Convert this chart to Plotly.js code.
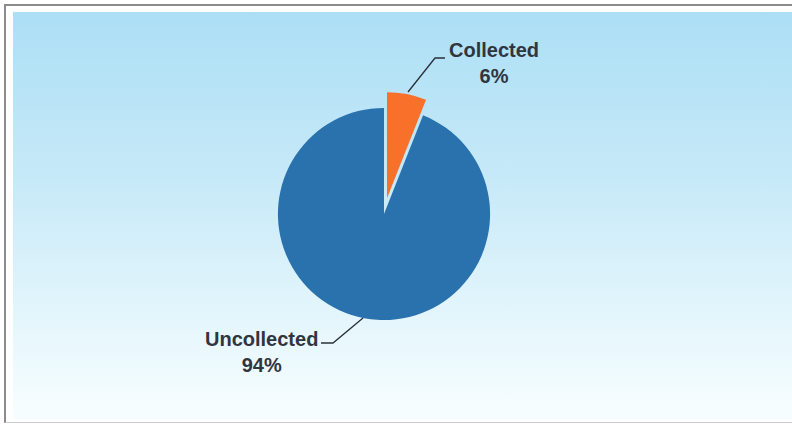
<!DOCTYPE html>
<html>
<head>
<meta charset="utf-8">
<script src="https://cdn.plot.ly/plotly-3.0.1.min.js"></script>
<style>
  html, body { margin: 0; padding: 0; background: #ffffff; width: 792px; height: 424px; overflow: hidden; }
  #frame { position: absolute; left: 4px; top: 4px; width: 800px; height: 416px;
           border-left: 2px solid #8c8c8c; border-top: 2px solid #8c8c8c; border-bottom: 1px solid #c8cccc; }
  #bg { position: absolute; left: 13px; top: 12px; width: 779px; height: 408px;
        background: linear-gradient(to bottom, #acdff5 0%, #c6e9f8 40%, #e4f6fc 75%, #f8feff 100%); }
  #chart { position: absolute; left: 0; top: 0; width: 792px; height: 424px; }
</style>
</head>
<body>
<div id="frame"></div>
<div id="bg"></div>
<div id="chart"></div>
<script>
// Data
const categories = ['Collected', 'Uncollected'];
const shares = [6, 94];
const sliceColors = ['#f8702a', '#2a72ae'];
const pulls = [0.15, 0];

const W = 792, H = 424;
const px = x => x / W;
const py = y => 1 - y / H;

const trace = {
  type: 'pie',
  labels: categories,
  values: shares,
  sort: false,
  direction: 'clockwise',
  rotation: 0,
  pull: pulls,
  textinfo: 'none',
  hoverinfo: 'label+percent',
  marker: { colors: sliceColors, line: { width: 0 } },
  domain: { x: [px(262), px(506)], y: [py(336), py(92)] }
};

const labelFont = { family: 'Liberation Sans, Arial, sans-serif', size: 20, color: '#30353f' };

const layout = {
  width: W, height: H,
  margin: { l: 0, r: 0, t: 0, b: 0 },
  paper_bgcolor: 'rgba(0,0,0,0)',
  plot_bgcolor: 'rgba(0,0,0,0)',
  showlegend: false,
  annotations: [
    { xref: 'paper', yref: 'paper', x: px(494), y: py(63), xanchor: 'center', yanchor: 'middle',
      text: '<b>' + categories[0] + '</b><br><b>' + shares[0] + '%</b>', showarrow: false, font: labelFont, align: 'center' },
    { xref: 'paper', yref: 'paper', x: px(261), y: py(352), xanchor: 'center', yanchor: 'middle',
      text: '<b>' + categories[1] + '</b><br><b>' + shares[1] + '%</b>', showarrow: false, font: labelFont, align: 'center' }
  ],
  shapes: [
    { type: 'path', xref: 'paper', yref: 'paper',
      path: 'M ' + px(445) + ',' + py(58) + ' L ' + px(435) + ',' + py(58) + ' L ' + px(408) + ',' + py(92),
      line: { color: '#2a2f38', width: 1.3 } },
    { type: 'path', xref: 'paper', yref: 'paper',
      path: 'M ' + px(321) + ',' + py(343) + ' L ' + px(333) + ',' + py(343) + ' L ' + px(363) + ',' + py(318),
      line: { color: '#2a2f38', width: 1.3 } }
  ]
};

Plotly.newPlot('chart', [trace], layout, { displayModeBar: false, staticPlot: true });
</script>
</body>
</html>
